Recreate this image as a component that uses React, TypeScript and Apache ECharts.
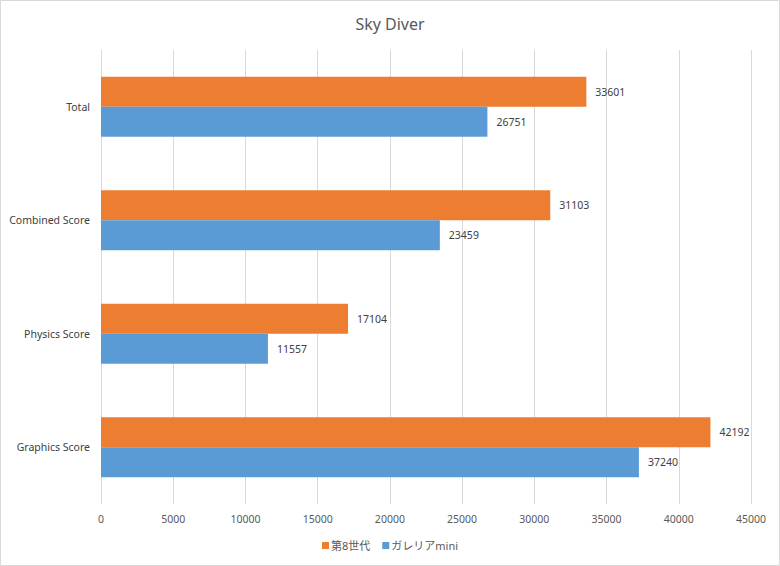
import React, { useEffect, useRef } from "react";
import * as echarts from "echarts";

const categories = ["Graphics Score", "Physics Score", "Combined Score", "Total"];
const seriesNames = ["第8世代", "ガレリアmini"];
const gen8Values = [42192, 17104, 31103, 33601];
const miniValues = [37240, 11557, 23459, 26751];

const FONT = '"Noto Sans", "Noto Sans CJK JP", sans-serif';

export default function App() {
  const ref = useRef<HTMLDivElement>(null);
  useEffect(() => {
    if (!ref.current) return;
    const chart = echarts.init(ref.current, null, { renderer: "svg" });
    const labelStyle = {
      show: true,
      position: "right",
      distance: 9,
      color: "#404040",
      fontSize: 10.5,
      fontFamily: FONT,
    };
    chart.setOption({
      animation: false,
      backgroundColor: "#ffffff",
      textStyle: { fontFamily: FONT },
      title: {
        text: "Sky Diver",
        left: "center",
        top: 11,
        textStyle: { color: "#595959", fontSize: 16, fontWeight: "normal", fontFamily: FONT },
      },
      graphic: [
        {
          type: "rect",
          shape: { x: 0.5, y: 0.5, width: 779, height: 565 },
          style: { fill: "none", stroke: "#d9d9d9", lineWidth: 1 },
          silent: true,
        },
      ],
      legend: {
        data: seriesNames,
        bottom: 10,
        left: "center",
        itemWidth: 7,
        itemHeight: 7,
        itemGap: 12,
        icon: "rect",
        textStyle: { color: "#595959", fontSize: 11, fontFamily: FONT, padding: [0, 0, 0, -3] },
      },
      grid: { left: 101, right: 29, top: 50, bottom: 62, containLabel: false },
      xAxis: {
        type: "value",
        min: 0,
        max: 45000,
        interval: 5000,
        axisLine: { show: false },
        axisTick: { show: false },
        splitLine: { lineStyle: { color: "#d9d9d9", width: 1 } },
        axisLabel: {
          color: "#595959",
          fontSize: 10.5,
          margin: 10,
          fontFamily: FONT,
          formatter: (v: number) => String(v),
        },
      },
      yAxis: {
        type: "category",
        data: categories,
        axisLine: { show: true, lineStyle: { color: "#d9d9d9" } },
        axisTick: { show: false },
        axisLabel: { color: "#404040", fontSize: 10.5, margin: 11, fontFamily: FONT },
      },
      series: [
        {
          name: seriesNames[0],
          type: "bar",
          data: gen8Values,
          barWidth: 30,
          barGap: "0%",
          itemStyle: { color: "#ed7d31" },
          label: labelStyle,
        },
        {
          name: seriesNames[1],
          type: "bar",
          data: miniValues,
          barWidth: 30,
          barGap: "0%",
          itemStyle: { color: "#5b9bd5" },
          label: labelStyle,
        },
      ],
    });
    return () => chart.dispose();
  }, []);
  return (
    <div
      ref={ref}
      style={{ position: "fixed", left: 0, top: 0, width: 780, height: 566 }}
    />
  );
}
